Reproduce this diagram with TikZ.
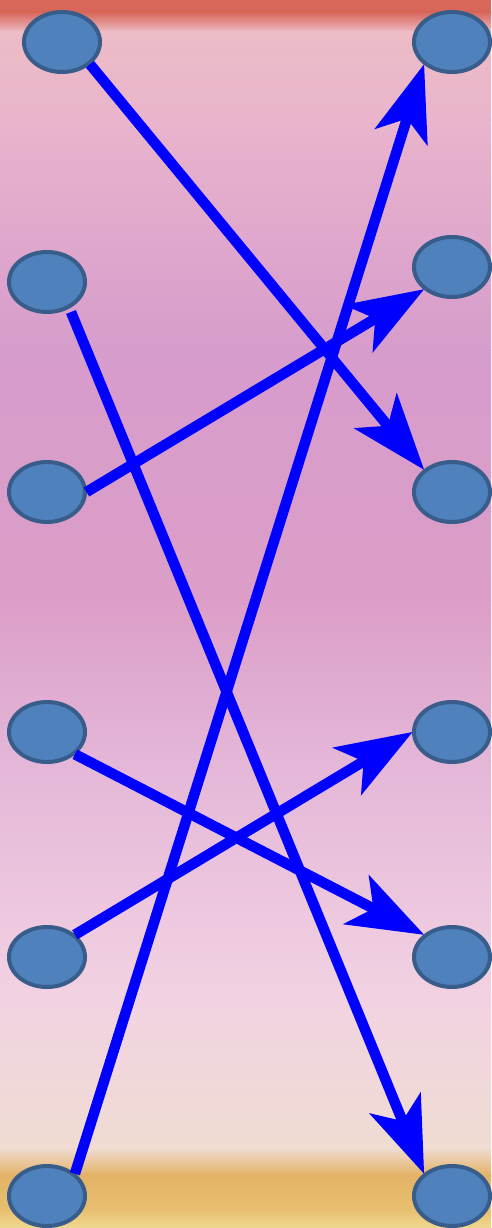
\documentclass[tikz,border=0pt]{standalone}
\usetikzlibrary{arrows.meta,shapes.geometric,calc}
\definecolor{nodefill}{HTML}{4F81BD}
\definecolor{nodeline}{HTML}{385D8A}
\definecolor{arrblue}{HTML}{0000FF}
\definecolor{bgA}{HTML}{D8675A}
\definecolor{bgB}{HTML}{EDBCC6}
\definecolor{bgC}{HTML}{E9B4CC}
\definecolor{bgD}{HTML}{D69CCC}
\definecolor{bgE}{HTML}{DC9EC8}
\definecolor{bgF}{HTML}{E4B6D8}
\definecolor{bgG}{HTML}{F2D2E2}
\definecolor{bgH}{HTML}{F0DCD2}
\definecolor{bgI}{HTML}{E3B266}
\definecolor{bgJ}{HTML}{E8C070}
\definecolor{bgK}{HTML}{F0D890}
\tikzset{
  dot/.style={ellipse, fill=nodefill, draw=nodeline, line width=4pt,
    minimum width=76pt, minimum height=60pt, inner sep=0pt, outer sep=1.5pt},
  arr/.style={draw=arrblue, line width=10.5pt,
    -{Stealth[length=77pt,width=56pt,inset=20pt,fill=arrblue,line width=0pt]}}
}
\begin{document}
\begin{tikzpicture}[x=1pt,y=-1pt]
\useasboundingbox (0,0) rectangle (491,1228);
% background
\fill[bgA] (0,0) rectangle (491,12.5);
\shade[top color=bgA,bottom color=bgB] (0,12) rectangle (491,32.5);
\shade[top color=bgB,bottom color=bgC] (0,32) rectangle (491,120.5);
\shade[top color=bgC,bottom color=bgD] (0,120) rectangle (491,350.5);
\shade[top color=bgD,bottom color=bgE] (0,350) rectangle (491,600.5);
\shade[top color=bgE,bottom color=bgF] (0,600) rectangle (491,760.5);
\shade[top color=bgF,bottom color=bgG] (0,760) rectangle (491,1000.5);
\shade[top color=bgG,bottom color=bgH] (0,1000) rectangle (491,1148.5);
\shade[top color=bgH,bottom color=bgI] (0,1148) rectangle (491,1175.5);
\shade[top color=bgI,bottom color=bgJ] (0,1175) rectangle (491,1210.5);
\shade[top color=bgJ,bottom color=bgK] (0,1210) rectangle (491,1228);
% nodes
\node[dot] (L1) at (62,42) {};
\node[dot] (L2) at (47,282) {};
\node[dot] (L3) at (47,492) {};
\node[dot] (L4) at (47,732) {};
\node[dot] (L5) at (47,957) {};
\node[dot] (L6) at (47,1196) {};
\node[dot] (R1) at (452,42) {};
\node[dot] (R2) at (452,267) {};
\node[dot] (R3) at (452,492) {};
\node[dot] (R4) at (452,732) {};
\node[dot] (R5) at (452,957) {};
\node[dot] (R6) at (452,1196) {};
\coordinate (S2) at ($(L2.center)+(24,30)$);
% connectors
\draw[arr] (L1.south east) -- (R3.north west);
\draw[arr] (S2) -- (R6.north west);
\draw[arr] (L3.east) -- (R2.south west);
\draw[arr] (L4.south east) -- (R5.north west);
\draw[arr] (L5.north east) -- (R4.west);
\draw[arr] (L6.north east) -- (R1.south west);
\end{tikzpicture}
\end{document}
